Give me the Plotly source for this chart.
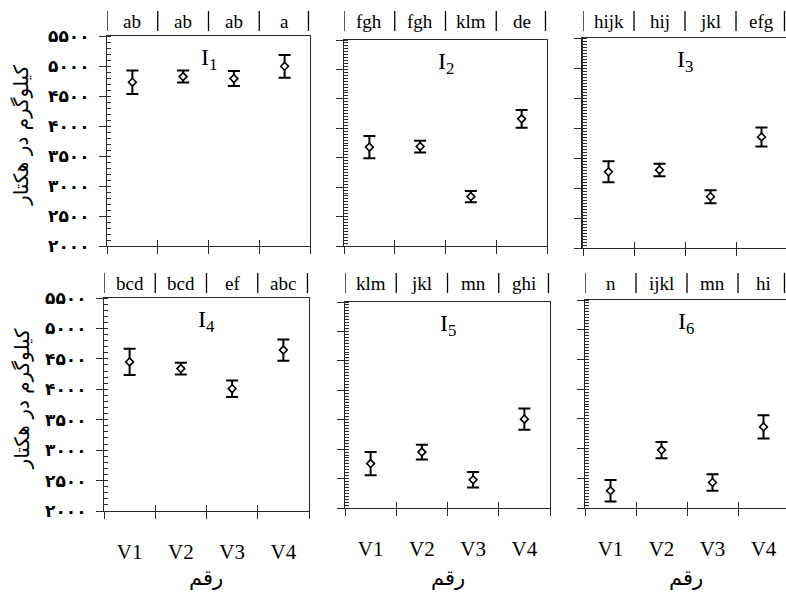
import plotly.graph_objects as go

W, H = 786, 592

categories = ["V1", "V2", "V3", "V4"]
panel_names = ["I1", "I2", "I3", "I4", "I5", "I6"]

means_I1 = [4730, 4823, 4790, 4995]
err_I1 = [195, 100, 125, 190]
means_I2 = [3680, 3690, 2840, 4160]
err_I2 = [190, 100, 95, 150]
means_I3 = [3270, 3300, 2855, 3850]
err_I3 = [175, 105, 108, 160]
means_I4 = [4450, 4340, 4010, 4645]
err_I4 = [215, 95, 135, 175]
means_I5 = [2755, 2950, 2480, 3510]
err_I5 = [197, 125, 130, 180]
means_I6 = [2290, 2975, 2430, 3365]
err_I6 = [180, 137, 140, 196]

letters_I1 = ["ab", "ab", "ab", "a"]
letters_I2 = ["fgh", "fgh", "klm", "de"]
letters_I3 = ["hijk", "hij", "jkl", "efg"]
letters_I4 = ["bcd", "bcd", "ef", "abc"]
letters_I5 = ["klm", "jkl", "mn", "ghi"]
letters_I6 = ["n", "ijkl", "mn", "hi"]

y_tickvals = [2000, 2500, 3000, 3500, 4000, 4500, 5000, 5500]
y_ticktext = ["۲۰۰۰", "۲۵۰۰", "۳۰۰۰", "۳۵۰۰", "۴۰۰۰", "۴۵۰۰", "۵۰۰۰", "۵۵۰۰"]

y_title = "کیلوگرم در هکتار"
x_title = "رقم"

means = [means_I1, means_I2, means_I3, means_I4, means_I5, means_I6]
errs = [err_I1, err_I2, err_I3, err_I4, err_I5, err_I6]
letters = [letters_I1, letters_I2, letters_I3, letters_I4, letters_I5, letters_I6]

# panel pixel boxes: (left, right, top, bottom)
boxes = [
    (107, 310, 36, 246),
    (344, 547, 40, 246),
    (583, 787, 38, 248),
    (104, 309, 298, 511),
    (345, 550, 302, 508),
    (585, 789, 300, 508),
]
minor_dt = [100, 50, 50, 100, 50, 50]
letter_row_y = [21, 21, 21, 283, 283, 283]

SERIF = "Liberation Serif"
AR = "DejaVu Sans"
AXC = "#2a2a2a"

fig = go.Figure()
annotations = []
shapes = []
x_pos = [0.5, 1.5, 2.5, 3.5]
x_bounds = [0, 1, 2, 3, 4]

for i in range(6):
    l, r, t, b = boxes[i]
    n = "" if i == 0 else str(i + 1)
    no = str(i + 7)
    unit = (r - l) / 4.0
    rr = min(r, W)
    xmax = (rr - l) / unit
    xd = [l / W, rr / W]
    yd = [1 - b / H, 1 - t / H]
    left_col = i in (0, 3)
    bottom_row = i >= 3

    fig.add_trace(go.Scatter(
        x=x_pos, y=means[i], mode="markers",
        xaxis="x" + n, yaxis="y" + n,
        marker=dict(symbol="diamond", size=6, color="white",
                    line=dict(color="black", width=1.6)),
        error_y=dict(type="data", array=errs[i], thickness=2, width=6, color="black"),
        showlegend=False, cliponaxis=False, hoverinfo="skip",
    ))
    # empty trace on the overlay axes (used only for the crossing tick marks)
    fig.add_trace(go.Scatter(
        x=[], y=[], mode="markers", xaxis="x" + no, yaxis="y" + no,
        showlegend=False, hoverinfo="skip",
    ))

    xa = dict(
        domain=xd, range=[0, xmax], anchor="y" + n,
        tickvals=x_pos, ticktext=categories, ticks="",
        showticklabels=bottom_row, ticklabelstandoff=22,
        tickfont=dict(family=SERIF, size=21, color="black"),
        showline=True, linecolor=AXC, linewidth=1, mirror=True,
        showgrid=False, zeroline=False, fixedrange=True, automargin=False,
        minor=dict(tick0=0, dtick=1, ticks="outside", ticklen=7,
                   tickcolor=AXC, tickwidth=1, showgrid=False),
    )
    ya = dict(
        domain=yd, range=[2000, 5500], anchor="x" + n,
        tickvals=y_tickvals, ticktext=y_ticktext, ticks="outside",
        ticklen=7, tickcolor=AXC, tickwidth=1,
        showticklabels=left_col, ticklabelstandoff=6,
        tickfont=dict(family=AR, size=17, color="black", weight="bold"),
        showline=True, linecolor=AXC, linewidth=2 if i == 2 else 1, mirror=True,
        showgrid=False, zeroline=False, fixedrange=True, automargin=False,
        minor=dict(dtick=minor_dt[i], tick0=2000, ticks="inside", ticklen=4,
                   tickcolor=AXC, tickwidth=1, showgrid=False),
    )
    # overlay axes: inner halves of the crossing major ticks
    xo = dict(
        domain=xd, range=[0, xmax], anchor="y" + no, overlaying="x" + n,
        tickvals=x_bounds, ticks="inside", ticklen=6, tickcolor=AXC, tickwidth=1,
        showticklabels=False, showline=False, showgrid=False, zeroline=False,
        fixedrange=True, automargin=False,
    )
    yo = dict(
        domain=yd, range=[2000, 5500], anchor="x" + no, overlaying="y" + n,
        tickvals=y_tickvals, ticks="inside", ticklen=4, tickcolor=AXC, tickwidth=1,
        showticklabels=False, showline=False, showgrid=False, zeroline=False,
        fixedrange=True, automargin=False,
    )
    fig.update_layout(**{"xaxis" + n: xa, "yaxis" + n: ya,
                         "xaxis" + no: xo, "yaxis" + no: yo})

    # panel label
    annotations.append(dict(
        text="I<sub>%d</sub>" % (i + 1), xref="x" + n + " domain", yref="y" + n + " domain",
        x=0.5, y=0.89, showarrow=False, xanchor="center", yanchor="middle",
        font=dict(family=SERIF, size=24, color="black"),
    ))
    # letter row
    yrow = 1 - letter_row_y[i] / H
    for k in range(4):
        annotations.append(dict(
            text=letters[i][k], xref="x" + n, yref="paper", x=x_pos[k], y=yrow,
            showarrow=False, xanchor="center", yanchor="middle",
            font=dict(family=SERIF, size=19, color="black"),
        ))
    for k in range(5):
        xs = min(x_bounds[k], xmax - 0.03)
        shapes.append(dict(
            type="line", xref="x" + n, yref="paper", x0=xs, x1=xs,
            y0=1 - (letter_row_y[i] + 10) / H, y1=1 - (letter_row_y[i] - 10) / H,
            line=dict(color="black", width=1.3),
        ))
    if left_col:
        annotations.append(dict(
            text=y_title, xref="paper", yref="paper", x=21 / W,
            y=1 - ((t + b) / 2 - 6) / H, textangle=-90, showarrow=False,
            xanchor="center", yanchor="middle",
            font=dict(family=AR, size=20, color="black"),
        ))
    if bottom_row:
        annotations.append(dict(
            text=x_title, xref="x" + n + " domain", yref="paper", x=0.5,
            y=1 - 578 / H, showarrow=False, xanchor="center", yanchor="middle",
            font=dict(family=AR, size=21, color="black"),
        ))

fig.update_layout(
    width=W, height=H, margin=dict(l=0, r=0, t=0, b=0, pad=0, autoexpand=False),
    paper_bgcolor="white", plot_bgcolor="white",
    annotations=annotations, shapes=shapes, showlegend=False,
)

post = (
    "var s=document.documentElement.style;s.margin='0';s.padding='0';s.overflow='hidden';"
    "var b=document.body.style;b.margin='0';b.padding='0';b.overflow='hidden';"
    "var gd=document.getElementById('{plot_id}');gd.style.position='fixed';"
    "gd.style.left='0px';gd.style.top='0px';"
)
fig.write_html("out.html", config={"displayModeBar": False}, post_script=post)
